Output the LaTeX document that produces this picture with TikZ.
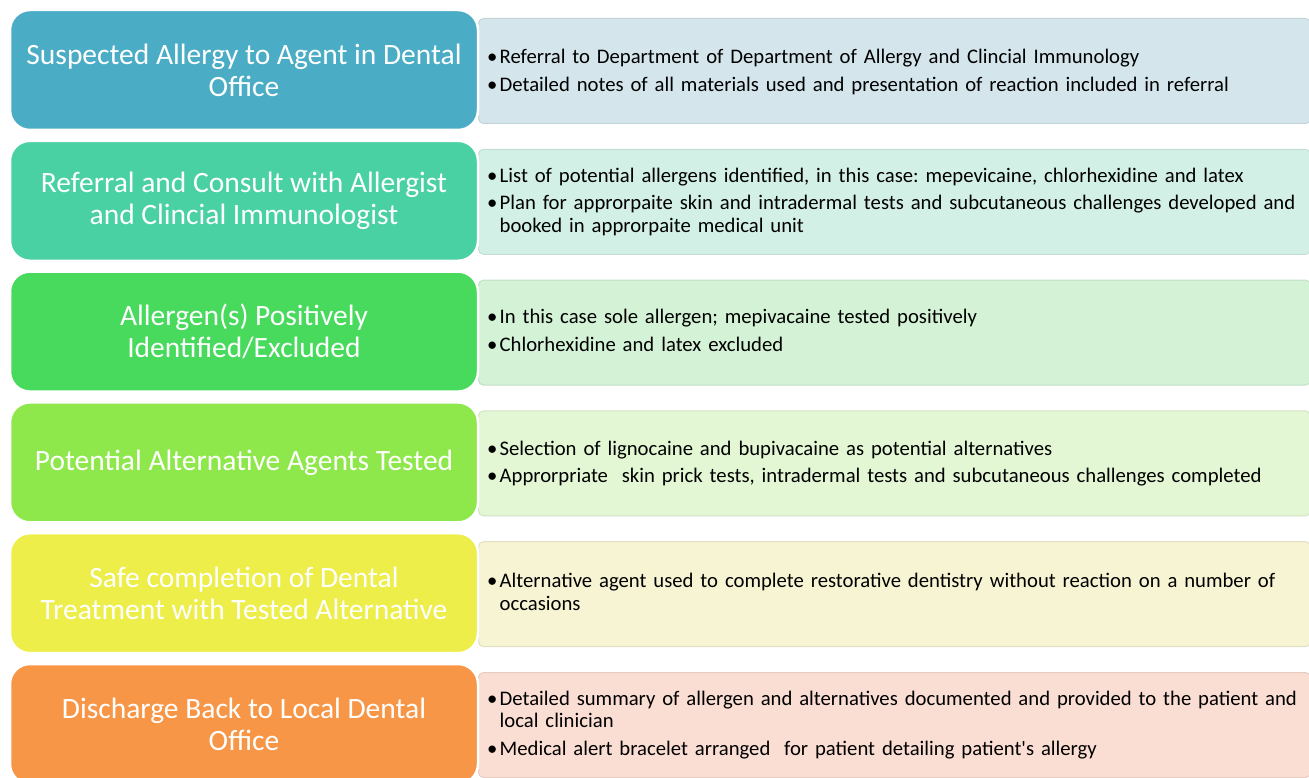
\documentclass[tikz,border=0pt]{standalone}
\usepackage{fontspec}
\setmainfont{Carlito}
\newfontfamily\plaincarlito{Carlito}
\frenchspacing
\definecolor{cA}{HTML}{4BACC6}\definecolor{rA}{HTML}{D4E6EC}
\definecolor{cB}{HTML}{4AD1A3}\definecolor{rB}{HTML}{D3F0E6}
\definecolor{cC}{HTML}{47DA5D}\definecolor{rC}{HTML}{D3F2D6}
\definecolor{cD}{HTML}{8EE84B}\definecolor{rD}{HTML}{E4F7D5}
\definecolor{cE}{HTML}{EDEE4A}\definecolor{rE}{HTML}{F7F4D3}
\definecolor{cF}{HTML}{F79646}\definecolor{rF}{HTML}{FBDED3}
\newcommand{\bitem}[1]{\hangindent=12.5pt\hangafter=1\noindent\makebox[12.5pt][l]{•}#1\par}
\tikzset{
  lbox/.style={draw=white, line width=2.5pt, rounded corners=20pt, minimum width=468pt, minimum height=120pt,
     text=white, align=center, font=\fontsize{29.5pt}{32pt}\selectfont, inner sep=0pt},
  rbox/.style={line width=1pt, rounded corners=5pt, minimum width=832pt, minimum height=105pt, inner sep=0pt},
  rtext/.style={anchor=west, text width=822pt, align=left, inner sep=0pt,
     font=\fontsize{20.7pt}{22.5pt}\selectfont\frenchspacing\setlength{\parskip}{5pt}}
}
\begin{document}
\begin{tikzpicture}[x=1pt,y=-1pt]
\useasboundingbox (0,0) rectangle (1309,778);
\clip (0,0) rectangle (1309,778);
% right boxes
\foreach \i/\c in {0/A,1/B,2/C,3/D,4/E,5/F}{
  \node[rbox, fill=r\c, draw=r\c!92!black, anchor=north west] (r\i) at (478, 18+130.8*\i) {};
}
% left boxes
\node[lbox, fill=cA] (l1) at (244, 70) {Suspected Allergy to Agent in Dental\\Office};
\node[lbox, fill=cB] (l2) at (244, 200.8) {Referral and Consult with Allergist\\and Clincial Immunologist};
\node[lbox, fill=cC] (l3) at (244, 331.6) {Allergen(s) Positively\\Identified/Excluded};
\node[lbox, fill=cD] (l4) at (244, 462.4) {Potential Alternative Agents Tested};
\node[lbox, fill=cE] (l5) at (244, 593.2) {Safe completion of Dental\\Treatment with Tested Alternative};
\node[lbox, fill=cF] (l6) at (244, 724) {Discharge Back to Local Dental\\Office};
% right texts
\node[rtext] (t1) at (487, 72) {\bitem{Referral to Department of Department of Allergy and Clincial Immunology}\bitem{Detailed notes of all materials used and presentation of reaction included in referral}};
\node[rtext] (t2) at (487, 201.5) {\bitem{List of potential allergens identified, in this case: mepevicaine, chlorhexidine and latex}\bitem{Plan for approrpaite skin and intradermal tests and subcutaneous challenges developed and\newline booked in approrpaite medical unit}};
\node[rtext] (t3) at (487, 330.5) {\bitem{In this case sole allergen; mepivacaine tested positively}\bitem{Chlorhexidine and latex excluded}};
\node[rtext] (t4) at (487, 463.5) {\bitem{Selection of lignocaine and bupivacaine as potential alternatives}\bitem{Approrpriate~ skin prick tests, intradermal tests and subcutaneous challenges completed}};
\node[rtext] (t5) at (487, 592) {\bitem{Alternative agent used to complete restorative dentistry without reaction on a number of\newline occasions}};
\node[rtext] (t6) at (487, 725) {\bitem{Detailed summary of allergen and alternatives documented and provided to the patient and\newline local clinician}\bitem{Medical alert bracelet arranged~ for patient detailing patient{\plaincarlito'}s allergy}};
\end{tikzpicture}
\end{document}
